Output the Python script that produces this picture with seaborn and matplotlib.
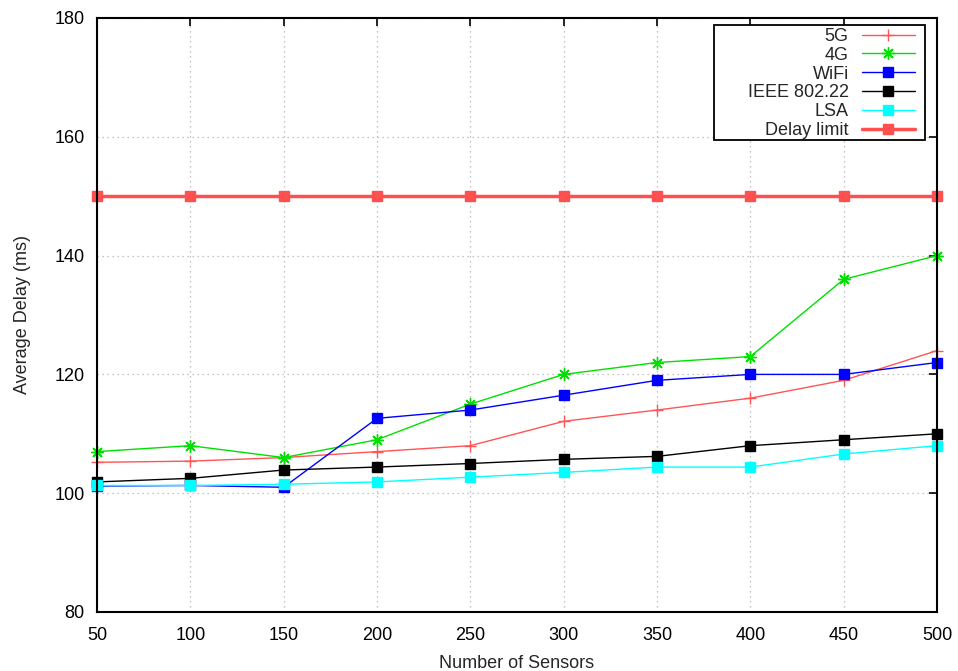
import matplotlib
matplotlib.use("Agg")
import matplotlib.pyplot as plt
from matplotlib.patches import Rectangle
import seaborn as sns
import pandas as pd

sensors = [50, 100, 150, 200, 250, 300, 350, 400, 450, 500]
delay_5g = [105.2, 105.4, 106.0, 107.0, 108.0, 112.1, 114.0, 116.0, 119.0, 124.0]
delay_4g = [107.0, 108.0, 106.0, 109.0, 115.0, 120.0, 122.0, 123.0, 136.0, 140.0]
delay_wifi = [101.2, 101.3, 101.0, 112.6, 114.0, 116.5, 119.0, 120.0, 120.0, 122.0]
delay_ieee = [101.9, 102.5, 103.9, 104.4, 105.0, 105.7, 106.2, 108.0, 109.0, 110.0]
delay_lsa = [101.3, 101.3, 101.5, 101.9, 102.7, 103.5, 104.4, 104.4, 106.6, 108.0]
delay_limit = [150] * len(sensors)

series = [
    ("5G", delay_5g, "#ff5555", "+", 1.0, 9),
    ("4G", delay_4g, "#00e000", (8, 2, 0), 1.0, 9),
    ("WiFi", delay_wifi, "#0000ff", "s", 1.0, 6.5),
    ("IEEE 802.22", delay_ieee, "#000000", "s", 1.0, 6.5),
    ("LSA", delay_lsa, "#00ffff", "s", 1.0, 6.5),
    ("Delay limit", delay_limit, "#ff5050", "s", 2.5, 6.5),
]

sns.set_style("white")
plt.rcParams["font.family"] = ["Liberation Sans", "DejaVu Sans"]

W, H = 958, 671
fig = plt.figure(figsize=(W / 100, H / 100), dpi=100)
ax = fig.add_axes([97 / W, 1 - 612 / H, 840 / W, 594 / H])

for name, vals, color, marker, lw, ms in series:
    df = pd.DataFrame({"x": sensors, "y": vals})
    sns.lineplot(data=df, x="x", y="y", ax=ax, color=color, marker=marker,
                 linewidth=lw, markersize=ms, markeredgecolor=color,
                 markerfacecolor=color, markeredgewidth=1.0, label=name,
                 clip_on=False)

ax.set_xlim(50, 500)
ax.set_ylim(80, 180)
ax.set_xticks(sensors)
ax.set_yticks([80, 100, 120, 140, 160, 180])
ax.grid(True, color="#b0b0b0", linestyle=(0, (1, 3)), linewidth=0.9)
ax.tick_params(direction="in", length=6, width=1.2, top=True, right=True,
               labelsize=13, colors="black")
ax.tick_params(axis="y", pad=9)
ax.tick_params(axis="x", pad=11)
for s in ax.spines.values():
    s.set_visible(True)
    s.set_color("black")
    s.set_linewidth(1.5)
    s.set_zorder(5)

ax.set_xlabel("Number of Sensors", fontsize=13, labelpad=8)
ax.set_ylabel("Average Delay (ms)", fontsize=13, labelpad=17)

# legend entries without a frame; the box is drawn separately
leg = ax.legend(loc="upper right", bbox_to_anchor=(915 / W, 1 - 28 / H),
                bbox_transform=fig.transFigure, borderaxespad=0,
                markerfirst=False, fontsize=13, frameon=False,
                handlelength=2.95, labelspacing=0.1, borderpad=0,
                handletextpad=0.72)
leg._legend_box.align = "right"
for col in leg._legend_handle_box.get_children():
    col.align = "right"
leg.set_zorder(7)

box = Rectangle((714 / W, 1 - 140 / H), (925 - 714) / W, (140 - 25) / H,
                transform=fig.transFigure, facecolor="white",
                edgecolor="black", linewidth=1.3, zorder=6)
ax.add_artist(box)
box.set_clip_on(False)

fig.savefig("out.png", dpi=100)
